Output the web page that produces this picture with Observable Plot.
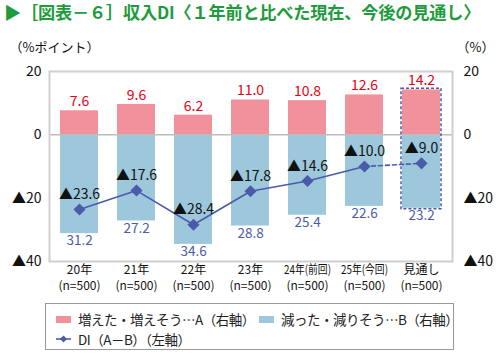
<!DOCTYPE html>
<html><head><meta charset="utf-8">
<script src="https://cdn.jsdelivr.net/npm/d3@7"></script>
<script src="https://cdn.jsdelivr.net/npm/@observablehq/plot@0.6"></script>
<style>
body{margin:0;background:#fff;font-family:"Noto Sans CJK JP",sans-serif;}
#wrap{position:relative;width:500px;height:358px;overflow:hidden;}
#title{position:absolute;left:4px;top:-1px;height:28px;line-height:26px;font-size:17.2px;font-weight:700;color:#1E9B3C;white-space:nowrap;letter-spacing:-0.2px;}
#chart{position:absolute;left:0;top:30px;}
#legend{position:absolute;left:45px;top:303px;width:409px;height:47px;border:1.3px solid #999;box-sizing:border-box;font-size:13.5px;color:#222;}
.item{position:absolute;display:flex;align-items:center;white-space:nowrap;letter-spacing:-0.5px;}
.sw{display:inline-block;width:15px;height:7px;margin-right:7px;}
</style></head>
<body><div id="wrap">
<div id="title">▶［図表－６］収入DI〈１年前と比べた現在、今後の見通し〉</div>
<div id="chart"></div>
<div id="legend"></div>
</div>
<script>
const categories = ["20年","21年","22年","23年","24年(前回)","25年(今回)","見通し"];
const sampleLabels = ["(n=500)","(n=500)","(n=500)","(n=500)","(n=500)","(n=500)","(n=500)"];
const increase = [7.6, 9.6, 6.2, 11.0, 10.8, 12.6, 14.2];
const decrease = [31.2, 27.2, 34.6, 28.8, 25.4, 22.6, 23.2];
const di = [-23.6, -17.6, -28.4, -17.8, -14.6, -10.0, -9.0];
const yTicks = [20, 0, -20, -40];
const seriesNames = ["増えた・増えそう…A（右軸）", "減った・減りそう…B（右軸）", "DI（A－B）（左軸）"];
const leftUnit = "（%ポイント）";
const rightUnit = "（%）";

const pink = "#F0919B", blue = "#9DC7DB", lineC = "#4A5BAA", red = "#E60012";
const rows = categories.map((c, i) => ({cat: c, n: sampleLabels[i], inc: increase[i], dec: -decrease[i], di: di[i], i}));
const fmtTick = d => d < 0 ? "▲" + (-d) : String(d);
const fmtDI = d => (d < 0 ? "▲" : "") + Math.abs(d).toFixed(1);
const solid = rows.slice(0, 6);
const dashed = rows.slice(5);
const last = rows.slice(6);

const chart = Plot.plot({
  width: 500, height: 270,
  marginLeft: 49, marginRight: 48, marginTop: 41, marginBottom: 39,
  style: {fontFamily: "'Noto Sans CJK JP', sans-serif", background: "transparent"},
  x: {domain: categories, paddingInner: 0.33, paddingOuter: 0.14, axis: null},
  y: {domain: [-40, 20], axis: null},
  marks: [
    Plot.barY(rows, {x: "cat", y1: 0, y2: "inc", fill: pink}),
    Plot.barY(rows, {x: "cat", y1: 0, y2: "dec", fill: blue}),
    Plot.ruleY([0], {stroke: "#bdbdbd", strokeWidth: 1.5}),
    Plot.barY(last, {x: "cat", y1: "dec", y2: "inc", fill: "none", stroke: lineC, strokeWidth: 1.5, strokeDasharray: "3,2", inset: -1}),
    Plot.frame({stroke: "#cfcfcf", strokeWidth: 2}),
    Plot.line(solid, {x: "cat", y: "di", stroke: lineC, strokeWidth: 1.6}),
    Plot.line(dashed, {x: "cat", y: "di", stroke: lineC, strokeWidth: 1.6, strokeDasharray: "4,3"}),
    Plot.dot(rows, {x: "cat", y: "di", symbol: "diamond2", r: 4.5, fill: lineC, stroke: lineC}),
    Plot.text(rows, {x: "cat", y: "inc", text: d => d.inc.toFixed(1), dy: -9, fill: red, fontSize: 14}),
    Plot.text(rows, {x: "cat", y: "dec", text: d => (-d.dec).toFixed(1), dy: 7.5, fill: lineC, fontSize: 13.5}),
    Plot.text(rows, {x: "cat", y: "di", text: d => fmtDI(d.di), dy: -15, fill: "#111", fontSize: 14}),
    Plot.axisY({ticks: yTicks, tickFormat: fmtTick, anchor: "left", tickSize: 0, tickPadding: 8, fontSize: 14, label: null, color: "#111"}),
    Plot.axisY({ticks: yTicks, tickFormat: fmtTick, anchor: "right", tickSize: 0, tickPadding: 11, fontSize: 14, label: null, color: "#111"}),
    Plot.text(rows, {x: "cat", frameAnchor: "bottom", text: "cat", dy: 12, fontSize: 12, fill: "#111", ariaLabel: "xlab"}),
    Plot.text(rows, {x: "cat", frameAnchor: "bottom", text: "n", dy: 28, fontSize: 12, fill: "#111", ariaLabel: "xlab"}),
    Plot.text([leftUnit], {frameAnchor: "top-left", text: d => d, dx: -40, dy: -29, fontSize: 13, textAnchor: "start", fill: "#111"}),
    Plot.text([rightUnit], {frameAnchor: "top-right", text: d => d, dx: 42, dy: -29, fontSize: 13, textAnchor: "end", fill: "#111"})
  ]
});
document.getElementById("chart").appendChild(chart);

// compress the long x labels so neighbours don't collide
chart.querySelectorAll("text").forEach(el => {
  const t = el.textContent;
  if (t.includes("年(")) { el.setAttribute("textLength", "47"); el.setAttribute("lengthAdjust", "spacingAndGlyphs"); }
});

const legend = document.getElementById("legend");
const items = [
  {x: 10, y: 5, html: `<span class="sw" style="background:${pink}"></span>${seriesNames[0]}`},
  {x: 213, y: 5, html: `<span class="sw" style="background:${blue}"></span>${seriesNames[1]}`},
  {x: 10, y: 25, html: `<svg width="15" height="10" style="margin-right:7px"><line x1="0" y1="5" x2="15" y2="5" stroke="${lineC}" stroke-width="1.6"/><path d="M7.5 1.5 L11 5 L7.5 8.5 L4 5Z" fill="${lineC}"/></svg>${seriesNames[2]}`}
];
items.forEach(it => {
  const d = document.createElement("div");
  d.className = "item";
  d.style.left = it.x + "px"; d.style.top = it.y + "px";
  d.innerHTML = it.html;
  legend.appendChild(d);
});
</script>
</body></html>
